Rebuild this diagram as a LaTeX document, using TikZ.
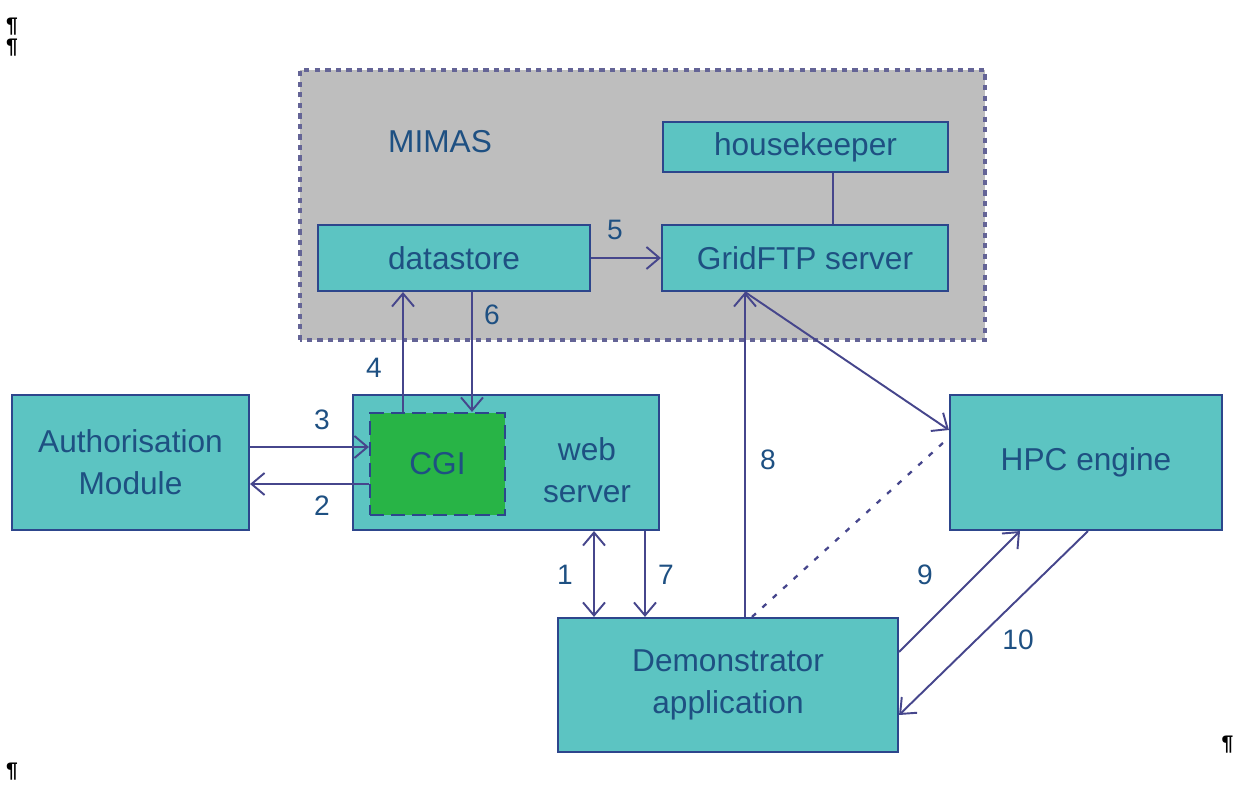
\documentclass[tikz,border=0pt]{standalone}
\usepackage{fontspec}
\setmainfont{Liberation Sans}
\usetikzlibrary{arrows.meta}
\definecolor{boxfill}{RGB}{92,196,194}
\definecolor{boxline}{RGB}{45,70,140}
\definecolor{boxtext}{RGB}{30,80,130}
\definecolor{mimasfill}{RGB}{190,190,190}
\definecolor{mimasline}{RGB}{100,100,150}
\definecolor{cgifill}{RGB}{40,180,70}
\definecolor{arrcol}{RGB}{70,70,140}
\begin{document}
\begin{tikzpicture}[>={Straight Barb[length=2.6mm,width=4.4mm]},
    box/.style={draw=boxline, fill=boxfill, line width=1.2pt, text=boxtext,
                font=\fontsize{18}{24}\selectfont, align=center, inner sep=0pt},
    arr/.style={->, draw=arrcol, line width=1.1pt},
    num/.style={text=boxtext, font=\fontsize{16}{18}\selectfont},
    pmark/.style={inner sep=0pt, font=\fontsize{12}{12}\selectfont\bfseries}]
      \useasboundingbox (0,0) rectangle (24.74,15.94);

      % MIMAS area
      \draw[draw=mimasline, fill=mimasfill, line width=2pt, dash pattern=on 3pt off 3pt]
            (6.0,9.14) rectangle (19.7,14.54);
      \node[num, font=\fontsize{18}{20}\selectfont] (mimas) at (8.8,13.1) {MIMAS};

      % boxes
      \node[box, minimum width=5.7cm, minimum height=1.0cm] (hk) at (16.11,13.0) {housekeeper};
      \node[box, minimum width=5.44cm, minimum height=1.32cm] (ds) at (9.08,10.78) {datastore};
      \node[box, minimum width=5.72cm, minimum height=1.32cm] (gftp) at (16.1,10.78) {GridFTP server};
      \node[box, minimum width=4.74cm, minimum height=2.7cm] (auth) at (2.61,6.69) {Authorisation\\Module};
      \node[box, minimum width=6.12cm, minimum height=2.7cm] (web) at (10.12,6.69) {};
      \node[text=boxtext, font=\fontsize{18}{24}\selectfont, align=center] (webtxt) at (11.74,6.54) {web\\server};
      \node[box, fill=cgifill, dash pattern=on 8pt off 4pt, minimum width=2.7cm,
            minimum height=2.04cm] (cgi) at (8.75,6.66) {CGI};
      \node[box, minimum width=5.44cm, minimum height=2.7cm] (hpc) at (21.72,6.69) {HPC engine};
      \node[box, minimum width=6.8cm, minimum height=2.68cm] (demo) at (14.56,2.24) {Demonstrator\\application};

      % connectors
      \draw[draw=arrcol, line width=1.1pt] ([xshift=0.56cm]gftp.north) -- ([xshift=0.56cm]gftp.north |- hk.south);
      \draw[arr] (ds.east) -- (gftp.west);
      \draw[arr] ([xshift=-0.69cm]cgi.north) -- ([xshift=-0.69cm]cgi.north |- ds.south);
      \draw[arr] ([xshift=0.36cm]ds.south) -- ([xshift=0.36cm]ds.south |- cgi.north);
      \draw[arr] ([yshift=0.31cm]auth.east) -- ([yshift=0.31cm]auth.east -| cgi.west);
      \draw[arr] ([yshift=-0.43cm]auth.east -| cgi.west) -- ([yshift=-0.43cm]auth.east);
      \draw[arr, <->] ([xshift=1.76cm]web.south) -- ([xshift=1.76cm]web.south |- demo.north);
      \draw[arr] ([xshift=2.78cm]web.south) -- ([xshift=2.78cm]web.south |- demo.north);
      \draw[arr] ([xshift=0.34cm]demo.north) -- ([xshift=0.34cm]demo.north |- gftp.south);
      \draw[arr] ([xshift=-1.2cm]gftp.south) -- ([yshift=0.65cm]hpc.west);
      \draw[draw=arrcol, line width=1.3pt, dash pattern=on 3pt off 5pt]
            ([xshift=0.48cm]demo.north) -- ([yshift=0.5cm]hpc.west);
      \draw[arr] ([yshift=0.66cm]demo.east) -- ([xshift=-1.32cm]hpc.south);
      \draw[arr] ([xshift=0.04cm]hpc.south) -- ([yshift=-0.6cm]demo.east);

      % numbers
      \node[num] (n5) at (12.3,11.34) {5};
      \node[num] (n6) at (9.84,9.64) {6};
      \node[num] (n4) at (7.48,8.58) {4};
      \node[num] (n3) at (6.44,7.54) {3};
      \node[num] (n2) at (6.44,5.82) {2};
      \node[num] (n1) at (11.3,4.44) {1};
      \node[num] (n7) at (13.32,4.44) {7};
      \node[num] (n8) at (15.36,6.74) {8};
      \node[num] (n9) at (18.5,4.44) {9};
      \node[num] (n10) at (20.36,3.14) {10};

      % paragraph marks
      \node[pmark] (p1) at (0.24,15.4) {¶};
      \node[pmark] (p2) at (0.24,14.98) {¶};
      \node[pmark] (p3) at (0.24,0.5) {¶};
      \node[pmark] (p4) at (24.55,1.04) {¶};
\end{tikzpicture}
\end{document}
